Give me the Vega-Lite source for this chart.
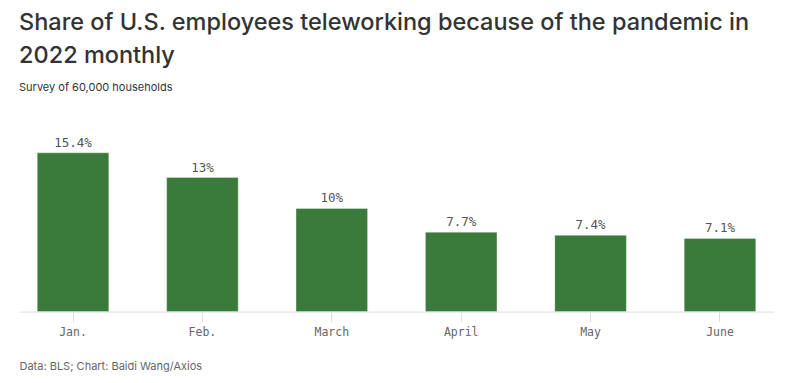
{
  "$schema": "https://vega.github.io/schema/vega-lite/v6.json",
  "autosize": "none",
  "width": 755,
  "height": 165,
  "padding": {"left": 19, "top": 146.6, "right": 26, "bottom": 71.4},
  "background": "white",
  "title": {
    "text": ["Share of U.S. employees teleworking because of the pandemic in", "2022 monthly"],
    "subtitle": "Survey of 60,000 households",
    "anchor": "start",
    "frame": "group",
    "font": "Inter",
    "fontSize": 23.5,
    "fontWeight": 500,
    "lineHeight": 33,
    "color": "#333333",
    "subtitleFont": "Inter",
    "subtitleFontSize": 11,
    "subtitleColor": "#333333",
    "subtitlePadding": 14,
    "offset": 44
  },
  "data": {
    "values": [
      {"month": "Jan.", "share": 15.4, "label": "15.4%"},
      {"month": "Feb.", "share": 13, "label": "13%"},
      {"month": "March", "share": 10, "label": "10%"},
      {"month": "April", "share": 7.7, "label": "7.7%"},
      {"month": "May", "share": 7.4, "label": "7.4%"},
      {"month": "June", "share": 7.1, "label": "7.1%"}
    ]
  },
  "encoding": {
    "x": {
      "field": "month",
      "type": "nominal",
      "sort": null,
      "scale": {"paddingInner": 0.447, "paddingOuter": 0.141},
      "axis": {
        "title": "Data: BLS; Chart: Baidi Wang/Axios",
        "titleFont": "Inter",
        "titleFontSize": 11,
        "titleFontWeight": 400,
        "titleColor": "#666666",
        "titleAnchor": "start",
        "titleAlign": "left",
        "titleX": 0,
        "titleY": 58,
        "titleBaseline": "alphabetic",
        "labelAngle": 0,
        "labelFont": "DejaVu Sans Mono",
        "labelFontSize": 11.5,
        "labelColor": "#666666",
        "labelPadding": 5,
        "labelBaseline": "top",
        "tickSize": 10,
        "tickColor": "#dddddd",
        "domainColor": "#dddddd",
        "grid": false
      }
    },
    "y": {
      "field": "share",
      "type": "quantitative",
      "scale": {"domain": [0, 16]},
      "axis": null
    }
  },
  "layer": [
    {
      "mark": {"type": "bar", "color": "#3a7a3a", "stroke": "#ffffff", "strokeOpacity": 0.35, "strokeWidth": 1}
    },
    {
      "mark": {"type": "text", "baseline": "alphabetic", "dy": -6, "font": "DejaVu Sans Mono", "fontSize": 12.5, "color": "#555555"},
      "encoding": {"text": {"field": "label"}}
    }
  ],
  "config": {"view": {"stroke": null}}
}
